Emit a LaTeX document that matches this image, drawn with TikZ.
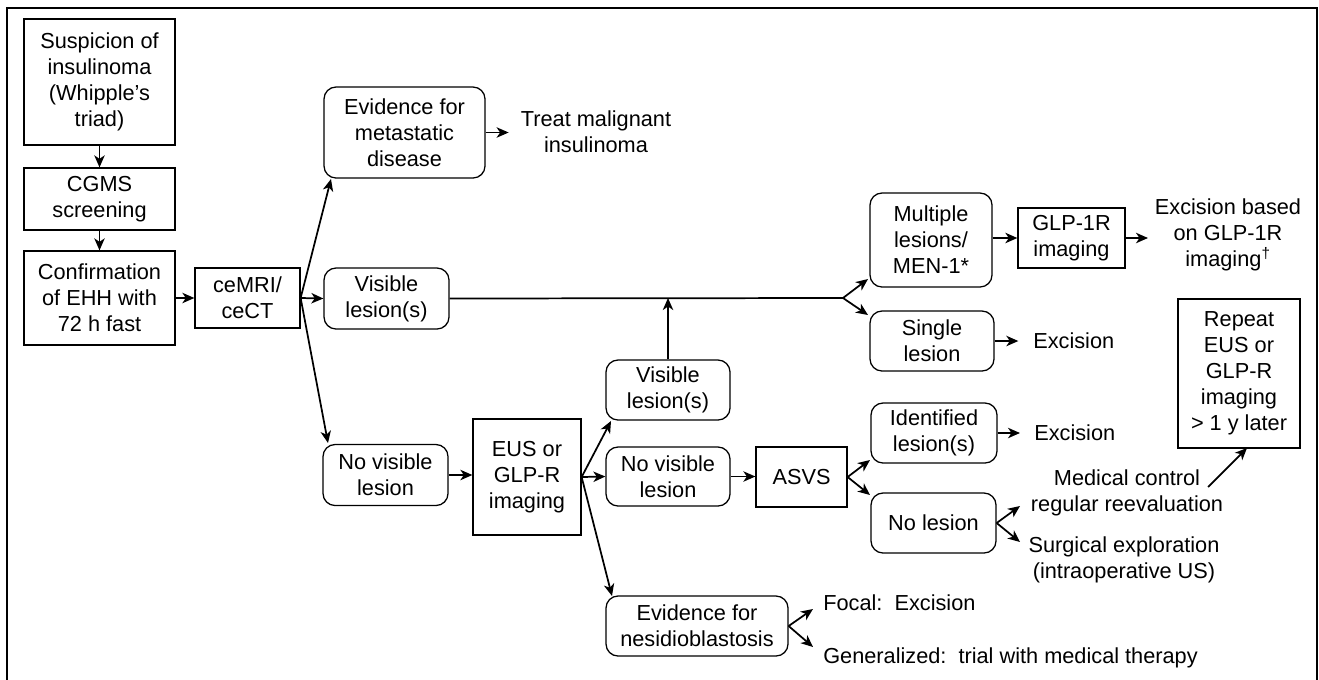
\documentclass[tikz,border=0pt]{standalone}
\usepackage{fontspec}
\setmainfont{Liberation Sans}
\usetikzlibrary{arrows.meta,calc}
\tikzset{myhead/.tip={Stealth[length=9pt,width=7.8pt,inset=2.6pt]}}
\begin{document}
\begin{tikzpicture}[x=0.75pt,y=-0.75pt,
  every node/.style={font=\fontsize{16.3}{19.5}\selectfont, align=center},
  sz/.style 2 args={minimum width=#1*0.75pt, minimum height=#2*0.75pt},
  sq/.style={draw, line width=0.95pt, inner sep=0pt},
  rd/.style={draw, line width=0.95pt, rounded corners=9pt, inner sep=0pt},
  txt/.style={inner sep=0pt},
  arr/.style={-myhead, line width=1.3pt},
  ln/.style={line width=1.3pt}]
\useasboundingbox (0,0) rectangle (1319,679);
\draw[line width=1.7pt] (7,700) -- (7,8) -- (1317,8) -- (1317,700);

% boxes
\node[sq, sz={151}{126}] (susp) at (99.5,82) {Suspicion of\\insulinoma\\(Whipple’s\\triad)};
\node[sq, sz={151}{62}] (cgms) at (99.5,199) {CGMS\\screening};
\node[sq, sz={151}{94}] (conf) at (99.5,298) {Confirmation\\of EHH with\\72 h fast};
\node[sq, sz={105}{60}] (cemri) at (247.5,298) {ceMRI/\\ceCT};
\node[rd, sz={161}{91}] (evmet) at (404.5,132.5) {Evidence for\\metastatic\\disease};
\node[rd, sz={125}{61}] (vis1) at (386.5,298.5) {Visible\\lesion(s)};
\node[rd, sz={125}{61}] (novis1) at (385.5,475) {No visible\\lesion};
\node[sq, sz={108}{116}] (eus) at (527,477) {EUS or\\GLP-R\\imaging};
\node[rd, sz={124}{60}] (vis2) at (668,390) {Visible\\lesion(s)};
\node[rd, sz={124}{59}] (novis2) at (668,476.5) {No visible\\lesion};
\node[sq, sz={91}{60}] (asvs) at (801.5,477) {ASVS};
\node[rd, sz={182}{60}] (nesid) at (697,626) {Evidence for\\nesidioblastosis};
\node[rd, sz={122}{94}] (mult) at (931,240) {Multiple\\lesions/\\MEN-1*};
\node[sq, sz={107}{60}] (glp) at (1071.5,238) {GLP-1R\\imaging};
\node[rd, sz={124}{60}] (single) at (932,341) {Single\\lesion};
\node[rd, sz={126}{60}] (ident) at (934,433) {Identified\\lesion(s)};
\node[rd, sz={125}{60}] (nolesion) at (933.5,523) {No lesion};
\node[sq, sz={122}{149}] (rep) at (1239,373.5) {Repeat\\EUS or\\GLP-R\\imaging\\> 1 y later};

% free texts
\node[txt] (treat) at (596,132) {Treat malignant\\insulinoma};
\node[txt] (excb) at (1228,235) {Excision based\\on GLP-1R\\imaging\textsuperscript{†}};
\node[txt, anchor=west] (exc1) at (1033,341) {Excision};
\node[txt, anchor=west] (exc2) at (1034,433) {Excision};
\node[txt] (med) at (1127,493) {Medical control\\regular reevaluation};
\node[txt] (surg) at (1124,560) {Surgical exploration\\(intraoperative US)};
\node[txt, anchor=west] (focal) at (823,603) {Focal:\ \ Excision};
\node[txt, anchor=west] (gen) at (823,658) {Generalized:\ \ trial with medical therapy};

% connector points
\coordinate (evIn) at (331,179);
\coordinate (nv1In) at (328,443);
\coordinate (split) at (843,298);
\coordinate (mulIn) at (868,279);
\coordinate (sinIn) at (868,315);
\coordinate (v2In) at (611,421);
\coordinate (nesIn) at (612,596);
\coordinate (idIn) at (870,460);
\coordinate (nlIn) at (870,495);
\coordinate (excbIn) at (1148,238);
\coordinate (medIn) at (1020,506);
\coordinate (surIn) at (1020,542);
\coordinate (medOut) at (1208,487);
\coordinate (repIn) at (1247,448);
\coordinate (focIn) at (813,609);
\coordinate (genIn) at (813,647);

% connectors
\draw[arr] (susp) -- (cgms);
\draw[arr] (cgms) -- (conf);
\draw[arr] (conf) -- (cemri);
\draw[arr] (cemri.east) -- (evIn);
\draw[arr] (cemri.east) -- (vis1.west);
\draw[arr] (cemri.east) -- (nv1In);
\draw[arr, shorten >=9pt] (evmet.east) -- (evmet.east -| treat.west);
\draw[ln] (vis1.east) -- (split);
\draw[arr] (split) -- (mulIn);
\draw[arr] (split) -- (sinIn);
\draw[arr] (vis2.north) -- (vis2.north |- split);
\draw[arr] (novis1.east) -- (novis1.east -| eus.west);
\draw[arr] (eus.east) -- (v2In);
\draw[arr] (eus.east) -- (novis2.west);
\draw[arr] (eus.east) -- (nesIn);
\draw[arr] (novis2.east) -- (novis2.east -| asvs.west);
\draw[arr] (asvs.east) -- (idIn);
\draw[arr] (asvs.east) -- (nlIn);
\draw[arr, shorten >=11pt] (single.east) -- (single.east -| exc1.west);
\draw[arr, shorten >=10.5pt] (ident.east) -- (ident.east -| exc2.west);
\draw[arr] (mult.east |- glp.west) -- (glp.west);
\draw[arr] (glp.east) -- (excbIn);
\draw[arr] (nolesion.east) -- (medIn);
\draw[arr] (nolesion.east) -- (surIn);
\draw[arr] (medOut) -- (repIn);
\draw[arr] (nesid.east) -- (focIn);
\draw[arr] (nesid.east) -- (genIn);
\end{tikzpicture}
\end{document}
